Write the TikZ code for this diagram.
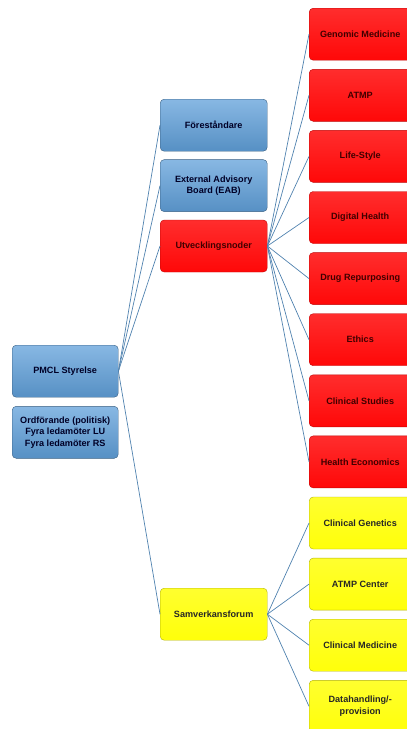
\documentclass[tikz,border=0pt]{standalone}
\usepackage{fontspec}
\setmainfont{Liberation Sans}
\usetikzlibrary{positioning}
\definecolor{boardblue}{RGB}{96,160,218}
\definecolor{nodered}{RGB}{255,8,8}
\definecolor{forumyellow}{RGB}{255,255,10}
\definecolor{linkblue}{RGB}{80,130,175}

\begin{document}
\begin{tikzpicture}[x=1pt, y=-1pt,
  node distance=8.7pt and 10pt,
  box/.style={rounded corners=4pt, align=center, font=\bfseries\fontsize{9.1}{11.5}\selectfont, inner sep=2pt},
  bluebox/.style={box, top color=boardblue!75!white, bottom color=boardblue!90!black, draw=boardblue!60!black, text=black!85!blue, minimum width=106pt, minimum height=52pt},
  redbox/.style={box, top color=nodered!85!white, bottom color=nodered, draw=nodered!75!black, text=black!75!red, minimum width=102pt, minimum height=52pt},
  yellowbox/.style={box, top color=forumyellow!85!white, bottom color=forumyellow, draw=forumyellow!70!black, text=black!85, minimum width=102pt, minimum height=52pt},
  link/.style={draw=linkblue, line width=0.7pt},
]
\useasboundingbox (0,0) rectangle (407,729);
% board
\node[bluebox, anchor=north west] (pmcl) at (12,345) {PMCL Styrelse};
\node[bluebox, below=of pmcl, node distance=9pt] (members) {Ordförande (politisk)\\Fyra ledamöter LU\\Fyra ledamöter RS};
% second level
\node[bluebox, anchor=north west, minimum width=107pt] (fore) at (160,99) {Föreståndare};
\node[bluebox, below=8pt of fore, minimum width=107pt] (eab) {External Advisory\\Board (EAB)};
\node[redbox, below=8pt of eab, minimum width=107pt] (utv) {Utvecklingsnoder};
\node[yellowbox, anchor=north west, minimum width=107pt] (forum) at (160,588) {Samverkansforum};
% development nodes
\node[redbox, anchor=north west] (genomic) at (309,8) {Genomic Medicine};
\node[redbox, below=of genomic] (atmp) {ATMP};
\node[redbox, below=of atmp] (life) {Life-Style};
\node[redbox, below=of life] (digital) {Digital Health};
\node[redbox, below=of digital] (drug) {Drug Repurposing};
\node[redbox, below=of drug] (ethics) {Ethics};
\node[redbox, below=of ethics] (studies) {Clinical Studies};
\node[redbox, below=of studies] (econ) {Health Economics};
% forum members
\node[yellowbox, below=of econ] (genetics) {Clinical Genetics};
\node[yellowbox, below=of genetics] (atmpc) {ATMP Center};
\node[yellowbox, below=of atmpc] (medicine) {Clinical Medicine};
\node[yellowbox, below=of medicine] (data) {Datahandling/-\\provision};
% connectors
\draw[link] (pmcl.east) -- (fore.west);
\draw[link] (pmcl.east) -- (eab.west);
\draw[link] (pmcl.east) -- (utv.west);
\draw[link] (pmcl.east) -- (forum.west);
\draw[link] (utv.east) -- (genomic.west);
\draw[link] (utv.east) -- (atmp.west);
\draw[link] (utv.east) -- (life.west);
\draw[link] (utv.east) -- (digital.west);
\draw[link] (utv.east) -- (drug.west);
\draw[link] (utv.east) -- (ethics.west);
\draw[link] (utv.east) -- (studies.west);
\draw[link] (utv.east) -- (econ.west);
\draw[link] (forum.east) -- (genetics.west);
\draw[link] (forum.east) -- (atmpc.west);
\draw[link] (forum.east) -- (medicine.west);
\draw[link] (forum.east) -- (data.west);
\end{tikzpicture}
\end{document}
